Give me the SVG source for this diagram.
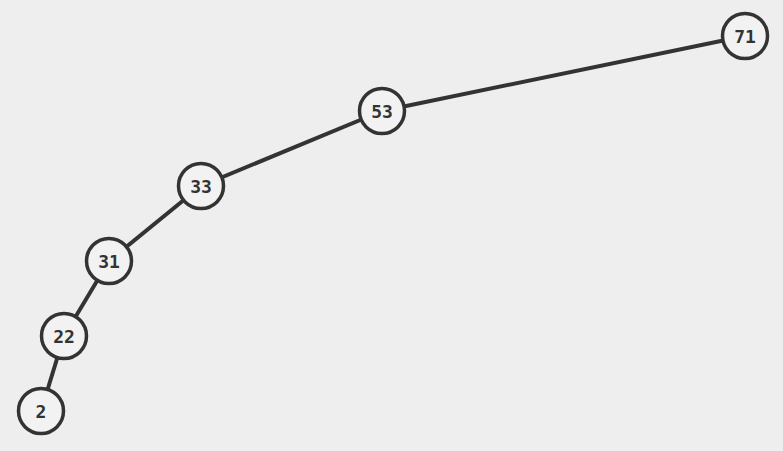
<svg xmlns="http://www.w3.org/2000/svg" width="783" height="451" viewBox="0 0 783 451">
<style>
.e{stroke:#333;stroke-width:4;fill:none}
.n circle{fill:#f2f2f2;stroke:#333;stroke-width:3.5}
.n text{font-family:"DejaVu Sans Mono",monospace;font-weight:bold;font-size:18px;fill:#333;text-anchor:middle;dominant-baseline:central}
</style>
<rect width="783" height="451" fill="#eeeeee"/>
<g id="edges">
<line class="e" x1="745" y1="36" x2="382" y2="111"/>
<line class="e" x1="382" y1="111" x2="201" y2="186"/>
<line class="e" x1="201" y1="186" x2="109" y2="261"/>
<line class="e" x1="109" y1="261" x2="64" y2="336"/>
<line class="e" x1="64" y1="336" x2="41" y2="411"/>
</g>
<g id="n71" class="n"><circle cx="745" cy="36" r="22.5"/><text x="745" y="36">71</text></g>
<g id="n53" class="n"><circle cx="382" cy="111" r="22.5"/><text x="382" y="111">53</text></g>
<g id="n33" class="n"><circle cx="201" cy="186" r="22.5"/><text x="201" y="186">33</text></g>
<g id="n31" class="n"><circle cx="109" cy="261" r="22.5"/><text x="109" y="261">31</text></g>
<g id="n22" class="n"><circle cx="64" cy="336" r="22.5"/><text x="64" y="336">22</text></g>
<g id="n2" class="n"><circle cx="41" cy="411" r="22.5"/><text x="41" y="411">2</text></g>
</svg>
